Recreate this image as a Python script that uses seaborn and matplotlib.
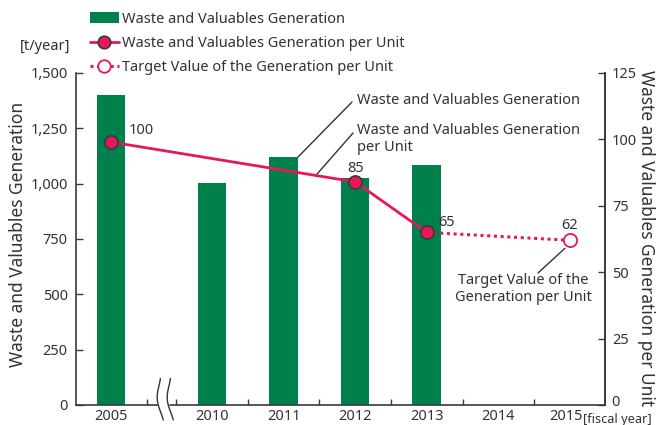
import numpy as np
import matplotlib
matplotlib.use("Agg")
import matplotlib.pyplot as plt
import seaborn as sns
from matplotlib.lines import Line2D
from matplotlib.patches import Patch

sns.set_theme(style="white")
plt.rcParams['font.family'] = ['Noto Sans', 'DejaVu Sans']

# ---- data ----
years = ["2005", "2010", "2011", "2012", "2013", "2014", "2015"]
bar_years = ["2005", "2010", "2011", "2012", "2013"]
bar_values = [1400, 1005, 1120, 1025, 1085]
unit_years = ["2005", "2012", "2013"]
unit_values = [99, 84, 65]
unit_labels = ["100", "85", "65"]
target_years = ["2013", "2015"]
target_values = [65, 62]
target_labels = ["", "62"]
left_ticks = [0, 250, 500, 750, 1000, 1250, 1500]
right_ticks = [0, 25, 50, 75, 100, 125]

# ---- layout ----
GAP = 0.41  # extra space for the axis break after 2005
pos = {y: (i + (GAP if i > 0 else 0)) for i, y in enumerate(years)}

GREEN = "#00804A"
PINK = "#E8175D"
DARK = "#3a3a3a"
TXT = "#333333"

W, H = 657, 425
fig = plt.figure(figsize=(W / 100, H / 100), dpi=100)
L, R, T, B = 76, 605, 73, 405
ax = fig.add_axes([L / W, 1 - B / H, (R - L) / W, (B - T) / H])

def fx(x):
    return x / W

def fy(y):
    return 1 - y / H

sns.barplot(x=[pos[y] for y in bar_years], y=bar_values, native_scale=True,
            width=0.4, color=GREEN, saturation=1, ax=ax, edgecolor="none")

ax.set_xlim(pos["2005"] - 0.49, pos["2015"] + 0.49)
ax.set_ylim(0, 1500)
ax.set_yticks(left_ticks)
ax.set_yticklabels([f"{v:,}" for v in left_ticks])
ax.set_xlabel("")
ax.set_ylabel("")

# x ticks: major ticks between categories, labels as minor ticks at centres
mids = [pos["2005"] + 0.5, pos["2010"] - 0.5] + [pos[years[i]] + 0.5 for i in range(1, len(years) - 1)]
ax.set_xticks(mids)
ax.set_xticklabels([""] * len(mids))
ax.set_xticks([pos[y] for y in years[:-1]], minor=True)
ax.set_xticklabels(years[:-1], minor=True)
ax.tick_params(axis="x", which="major", direction="in", length=4, width=1, color=DARK, bottom=True)
ax.tick_params(axis="x", which="minor", length=0, pad=3, labelsize=10.5, labelcolor=TXT, bottom=True)
ax.tick_params(axis="y", direction="in", length=5, width=1, color=DARK, left=True,
               labelsize=10.5, labelcolor=TXT, pad=6)
# last year label sits slightly left, followed by the unit
fig.text(fx(566), fy(416), years[-1], ha="center", va="center", fontsize=10.5, color=TXT)
fig.text(fx(583), fy(419), "[fiscal year]", ha="left", va="center", fontsize=9.2, color=TXT)

ax.spines["top"].set_visible(False)
for s in ["left", "right", "bottom"]:
    ax.spines[s].set_color(DARK)
    ax.spines[s].set_linewidth(1.2)

ax2 = ax.twinx()
ax2.set_ylim(0, 125)
ax2.set_yticks(right_ticks)
ax2.set_yticklabels([""] + [str(v) for v in right_ticks[1:]])
ax2.tick_params(axis="y", direction="in", length=5, width=1, color=DARK, right=True,
                labelsize=10.5, labelcolor=TXT, pad=5)
# the zero label of the right axis, nudged up clear of the unit text
fig.text(fx(611), fy(402), str(right_ticks[0]), ha="left", va="center", fontsize=10.5, color=TXT)
ax2.spines["top"].set_visible(False)
ax2.spines["right"].set_color(DARK)
ax2.spines["right"].set_linewidth(1.2)
ax2.spines["left"].set_visible(False)
ax2.spines["bottom"].set_visible(False)
ax2.grid(False)
ax.grid(False)

# target (dotted)
sns.lineplot(x=[pos[y] for y in target_years], y=target_values, ax=ax2, color=PINK,
             linewidth=2.2, linestyle=(0, (1, 1.2)), sort=False, zorder=3)
sns.scatterplot(x=[pos[target_years[-1]]], y=[target_values[-1]], ax=ax2, s=90,
                facecolor="white", edgecolor=PINK, linewidth=1.3, zorder=4)
# actual
sns.lineplot(x=[pos[y] for y in unit_years], y=unit_values, ax=ax2, color=PINK,
             linewidth=2.0, marker="o", markersize=9.5, markerfacecolor=PINK,
             markeredgecolor=DARK, markeredgewidth=1.2, sort=False, zorder=5)

# value labels
offsets = {"2005": (0.42, 4.2), "2012": (0.0, 4.9), "2013": (0.27, 3.9), "2015": (0.0, 5.6)}
for y, v, lab in zip(unit_years, unit_values, unit_labels):
    dx, dy = offsets[y]
    ax2.text(pos[y] + dx, v + dy, lab, ha="center", va="center", fontsize=10.5, color=TXT)
for y, v, lab in zip(target_years, target_values, target_labels):
    if lab:
        dx, dy = offsets[y]
        ax2.text(pos[y] + dx, v + dy, lab, ha="center", va="center", fontsize=10.5, color=TXT)

# leader lines + annotation texts
ax.annotate("", xy=(pos["2011"] + 0.2, bar_values[2]), xycoords="data",
            xytext=(fx(352), fy(102)), textcoords="figure fraction",
            arrowprops=dict(arrowstyle="-", color=TXT, lw=1, shrinkA=0, shrinkB=0))
fig.text(fx(357), fy(101), "Waste and Valuables Generation", ha="left", va="center",
         fontsize=10.5, color=TXT)
xl = pos["2011"] + 0.45
yl = np.interp(xl, [pos[y] for y in unit_years], unit_values)
ax2.annotate("", xy=(xl, yl), xycoords="data",
             xytext=(fx(353), fy(133)), textcoords="figure fraction",
             arrowprops=dict(arrowstyle="-", color=TXT, lw=1, shrinkA=0, shrinkB=0))
fig.text(fx(357), fy(139), "Waste and Valuables Generation\nper Unit", ha="left", va="center",
         fontsize=10.5, color=TXT, linespacing=1.2)
ax2.annotate("", xy=(pos["2015"] - 0.07, target_values[-1] - 3.0), xycoords="data",
             xytext=(fx(538), fy(273)), textcoords="figure fraction",
             arrowprops=dict(arrowstyle="-", color=TXT, lw=1, shrinkA=0, shrinkB=0))
fig.text(fx(523), fy(289), "Target Value of the\nGeneration per Unit", ha="center", va="center",
         fontsize=10.5, color=TXT, linespacing=1.1)

# axis break marks
tr = ax.get_xaxis_transform()
t = np.linspace(0, 1, 50)
yb = 0.08 - t * 0.125
for i, x0 in enumerate([0.66, 0.80]):
    xb = x0 - 0.035 * np.sin(np.pi * (t * 1.6 - 0.3)) + 0.04 * t
    if i == 0:
        ax.fill_betweenx(yb, xb, xb + 0.14, color="white", transform=tr, clip_on=False, zorder=6)
    ax.plot(xb, yb, color=TXT, lw=1, transform=tr, clip_on=False, zorder=7)

# axis titles / units
fig.text(fx(18), fy(234), "Waste and Valuables Generation", rotation=90, ha="center", va="center",
         fontsize=12.5, color=TXT)
fig.text(fx(646), fy(238), "Waste and Valuables Generation per Unit", rotation=270, ha="center",
         va="center", fontsize=12.5, color=TXT)
fig.text(fx(20), fy(47), "[t/year]", ha="left", va="center", fontsize=10.5, color=TXT)

# legend
handles = [
    Patch(facecolor=GREEN, edgecolor="none"),
    Line2D([], [], color=PINK, lw=2, marker="o", markersize=9, markerfacecolor=PINK,
           markeredgecolor=DARK, markeredgewidth=1.2),
    Line2D([], [], color=PINK, lw=2.2, linestyle=(0, (1, 1.2)), marker="o", markersize=9,
           markerfacecolor="white", markeredgecolor=PINK, markeredgewidth=1.3),
]
labels = ["Waste and Valuables Generation", "Waste and Valuables Generation per Unit",
          "Target Value of the Generation per Unit"]
fig.legend(handles, labels, loc="upper left", bbox_to_anchor=(fx(84), fy(6)), frameon=False,
           fontsize=10.5, handlelength=2.0, handleheight=0.8, handletextpad=0.2,
           labelspacing=0.62, borderaxespad=0, labelcolor=TXT)

fig.savefig("out.png", dpi=100)
